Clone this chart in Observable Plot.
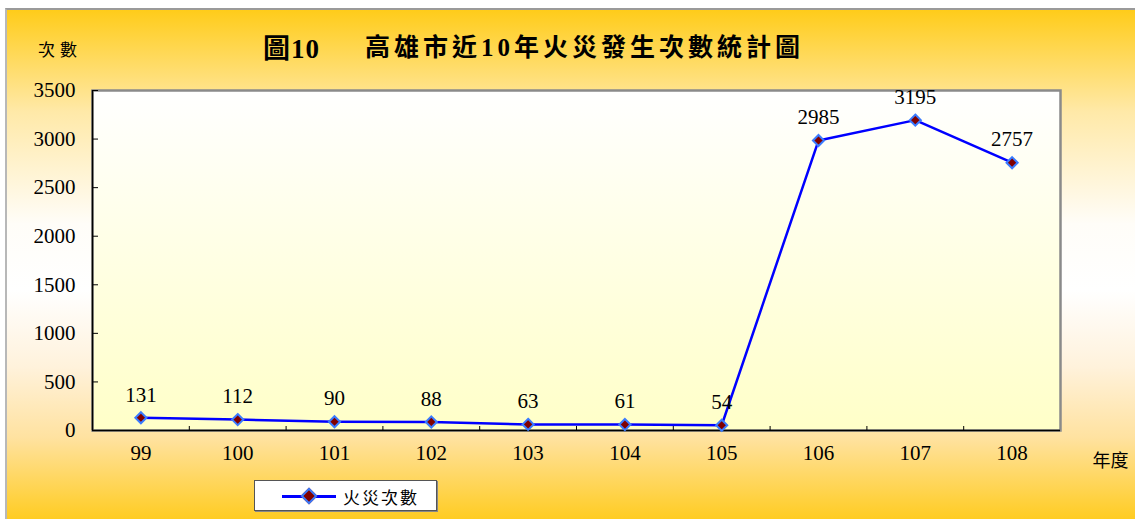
<!DOCTYPE html>
<html>
<head>
<meta charset="utf-8">
<script src="https://cdn.jsdelivr.net/npm/d3@7"></script>
<script src="https://cdn.jsdelivr.net/npm/@observablehq/plot@0.6"></script>
<style>
  html, body { margin: 0; padding: 0; background: #fff; width: 1135px; height: 519px; overflow: hidden; }
  #frame {
    position: absolute; left: 5px; top: 8px; width: 1130px; height: 511px;
    border-left: 2px solid #b8b8b8; border-top: 2px solid #9a9a9a; box-sizing: border-box;
    background: linear-gradient(to bottom, #FFCC1A 0%, #FFE9A8 20%, #FFFDF8 42%, #FFFFFF 55%, #FFF2DC 70%, #FFE2A0 84%, #FFCC22 100%);
    font-family: "Liberation Serif", "Noto Sans CJK TC", serif;
  }
  #title { position: relative; height: 60px; }
  #title span { position: absolute; white-space: nowrap; color: #000; }
  .t1 { left: 256px; top: 17px; font-size: 27px; font-weight: bold; font-family: "Liberation Serif", "Noto Sans CJK TC", serif; letter-spacing: 1px; }
  .t2 { left: 358px; top: 17px; font-size: 25px; font-weight: bold; font-family: "Liberation Serif", "Noto Sans CJK TC", serif; letter-spacing: 4px; }
  .ylab { left: 31px; top: 26px; font-size: 17px; font-family: "Noto Sans CJK TC", sans-serif; letter-spacing: 5px; }
  #chart { display: block; }
  #chart svg text { font-family: "Liberation Serif", "Noto Sans CJK TC", serif; }
  #legend {
    position: relative; margin-left: 247px; margin-top: 5px; width: 183px; height: 31px;
    background: #fff; border: 1px solid #555; box-sizing: border-box; box-shadow: 1px 1px 0 #888;
  }
  #legend .ln { position: absolute; left: 27px; top: 14px; width: 54px; height: 2.5px; background: #0000FF; }
  #legend .dm { position: absolute; left: 48px; top: 9px; width: 8px; height: 8px; background: #800000; border: 2px solid #3A7BFF; transform: rotate(45deg); }
  #legend .tx { position: absolute; left: 88px; top: 3px; font-size: 17px; font-family: "Noto Sans CJK TC", sans-serif; letter-spacing: 2px; }
</style>
</head>
<body>
<div id="frame">
  <div id="title">
    <span class="ylab">次數</span>
    <span class="t1">圖10</span>
    <span class="t2">高雄市近10年火災發生次數統計圖</span>
  </div>
  <div id="chart"></div>
  <div id="legend"><div class="ln"></div><div class="dm"></div><div class="tx">火災次數</div></div>
</div>
<script>
const years = [99, 100, 101, 102, 103, 104, 105, 106, 107, 108];
const fires = [131, 112, 90, 88, 63, 61, 54, 2985, 3195, 2757];
const yTicks = [0, 500, 1000, 1500, 2000, 2500, 3000, 3500];
const seriesName = "火災次數";
const xAxisTitle = "年度";

const data = years.map((y, i) => ({year: y, value: fires[i]}));
const boundaries = years.slice(0, -1).map(y => y + 0.5);
const serif = "Liberation Serif";

const chart = Plot.plot({
  width: 1128,
  height: 405,
  marginLeft: 85,
  marginRight: 75,
  marginTop: 20,
  marginBottom: 45,
  style: {background: "transparent", fontFamily: serif},
  x: {type: "linear", domain: [years[0] - 0.5, years[years.length - 1] + 0.5], label: null},
  y: {domain: [0, 3500], label: null},
  marks: [
    Plot.frame({fill: "url(#plotGrad)", stroke: "#8a8a8a", strokeWidth: 2.5}),
    Plot.ruleY([0], {stroke: "#000", strokeWidth: 1.5}),
    Plot.ruleX([years[0] - 0.5], {stroke: "#000", strokeWidth: 1.5}),
    Plot.axisY(yTicks, {anchor: "left", tickSize: 0, tickPadding: 17, fontSize: 21, fontFamily: serif, fill: "#000", tickFormat: d => String(d), label: null}),
    Plot.axisY(yTicks, {anchor: "right", frameAnchor: "left", tickSize: 5, tickFormat: () => "", label: null, stroke: "#000"}),
    Plot.axisX(years, {anchor: "bottom", tickSize: 0, tickPadding: 15, fontSize: 21, fontFamily: serif, fill: "#000", tickFormat: d => String(d), label: null}),
    Plot.axisX(boundaries, {anchor: "top", frameAnchor: "bottom", tickSize: 5, tickFormat: () => "", label: null, stroke: "#000"}),
    Plot.line(data, {x: "year", y: "value", stroke: "#0000FF", strokeWidth: 2.5}),
    Plot.dot(data, {x: "year", y: "value", symbol: "diamond2", r: 5, fill: "#800000", stroke: "#3A7BFF", strokeWidth: 2}),
    Plot.text(data, {x: "year", y: "value", text: d => String(d.value), dy: -23, fontSize: 21, fontFamily: serif, fill: "#000"}),
    Plot.text([xAxisTitle], {frameAnchor: "bottom-right", dx: 68, dy: 36, textAnchor: "end", fontSize: 18, fontFamily: "Noto Sans CJK TC", fill: "#000", style: "letter-spacing:4px"})
  ]
});

const ns = "http://www.w3.org/2000/svg";
const defs = document.createElementNS(ns, "defs");
defs.innerHTML = '<linearGradient id="plotGrad" x1="0" y1="0" x2="0" y2="1"><stop offset="0" stop-color="#FFFFFF"/><stop offset="1" stop-color="#FFFFC8"/></linearGradient>';
chart.insertBefore(defs, chart.firstChild);
document.getElementById("chart").appendChild(chart);
</script>
</body>
</html>
